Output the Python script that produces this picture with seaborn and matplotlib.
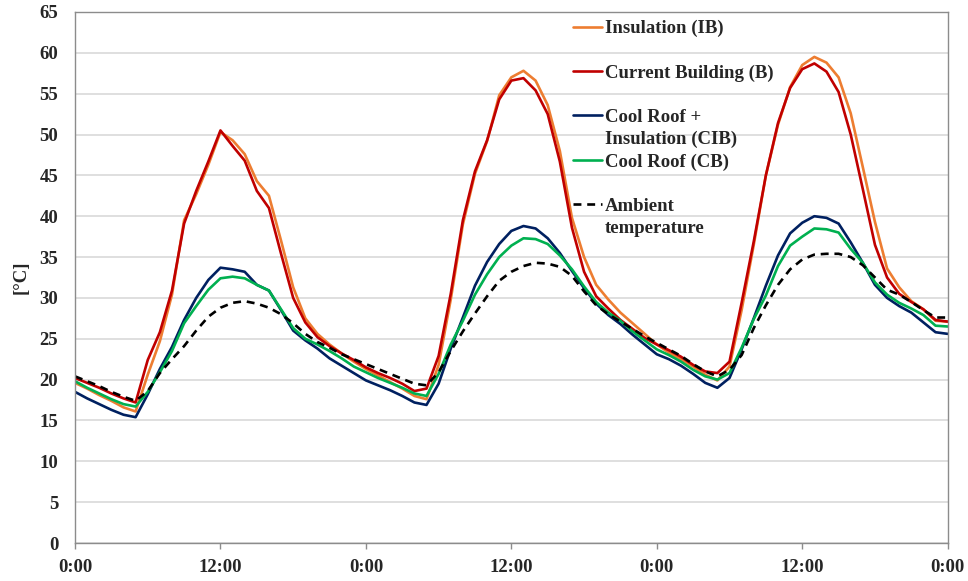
import numpy as np
import pandas as pd
import matplotlib
matplotlib.use("Agg")
import matplotlib.pyplot as plt
import seaborn as sns

# saatlik veriler (0:00 -> 72 saat)
hours = list(range(73))
tick_hours = [0, 12, 24, 36, 48, 60, 72]
tick_labels = ['0:00', '12:00', '0:00', '12:00', '0:00', '12:00', '0:00']

ib = [19.6, 18.9, 18.1, 17.4, 16.6, 16.1, 20.6, 24.7, 30.4, 39.5, 42.7, 46.3,
      50.3, 49.3, 47.6, 44.3, 42.5, 37.0, 31.3, 27.5, 25.6, 24.3, 23.2, 22.2,
      21.3, 20.5, 19.7, 18.9, 18.0, 17.6, 21.8, 29.8, 39.0, 45.2, 49.2, 54.8,
      57.0, 57.8, 56.6, 53.6, 48.0, 39.8, 35.0, 31.6, 29.8, 28.2, 26.9, 25.6,
      24.3, 23.3, 22.5, 21.6, 20.6, 19.9, 21.6, 28.5, 36.5, 45.0, 51.2, 55.8,
      58.5, 59.5, 58.8, 57.0, 52.6, 46.0, 39.3, 33.6, 31.3, 29.6, 28.6, 27.2, 27.1]
b = [20.2, 19.6, 19.0, 18.3, 17.7, 17.2, 22.4, 25.8, 30.9, 39.1, 43.1, 46.7,
     50.5, 48.6, 46.8, 43.1, 41.0, 35.4, 30.0, 27.0, 25.2, 24.1, 23.2, 22.4,
     21.5, 20.8, 20.2, 19.5, 18.6, 18.9, 22.9, 30.5, 39.5, 45.5, 49.3, 54.3,
     56.6, 56.9, 55.4, 52.5, 46.7, 38.6, 33.2, 30.2, 28.7, 27.3, 26.2, 25.1,
     24.3, 23.6, 22.8, 21.8, 21.0, 20.8, 22.2, 29.4, 36.9, 45.0, 51.4, 55.7,
     58.0, 58.7, 57.7, 55.2, 50.0, 43.3, 36.5, 32.5, 30.5, 29.5, 28.6, 27.3, 27.1]
cib = [18.5, 17.7, 17.0, 16.3, 15.7, 15.4, 18.2, 21.3, 24.0, 27.3, 30.0, 32.2,
       33.7, 33.5, 33.2, 31.6, 30.9, 28.5, 26.0, 24.8, 23.8, 22.6, 21.7, 20.8,
       19.9, 19.3, 18.7, 18.0, 17.2, 16.9, 19.5, 23.8, 27.6, 31.5, 34.4, 36.6,
       38.2, 38.8, 38.5, 37.3, 35.5, 33.3, 31.2, 29.3, 27.9, 26.8, 25.5, 24.3,
       23.1, 22.5, 21.7, 20.7, 19.6, 19.0, 20.2, 23.7, 27.5, 31.5, 35.2, 37.9,
       39.2, 40.0, 39.8, 39.1, 36.8, 34.3, 31.6, 30.0, 29.0, 28.2, 27.0, 25.8, 25.6]
cb = [19.8, 19.0, 18.3, 17.6, 17.0, 16.7, 18.5, 20.9, 23.5, 26.9, 29.0, 31.0,
      32.4, 32.6, 32.4, 31.6, 30.9, 28.6, 26.3, 25.0, 24.3, 23.5, 22.6, 21.6,
      20.9, 20.2, 19.6, 19.0, 18.3, 18.0, 20.7, 24.3, 27.2, 30.4, 32.9, 35.0,
      36.4, 37.3, 37.2, 36.6, 35.2, 33.5, 31.4, 29.5, 28.2, 27.2, 25.9, 24.8,
      23.7, 23.0, 22.2, 21.2, 20.4, 20.0, 20.8, 23.9, 27.4, 30.3, 33.9, 36.4,
      37.5, 38.5, 38.4, 38.0, 36.0, 34.3, 31.9, 30.4, 29.4, 28.7, 27.9, 26.6, 26.5]
amb = [20.4, 19.8, 19.2, 18.5, 17.9, 17.4, 18.6, 20.8, 22.5, 24.1, 26.0, 27.7,
       28.8, 29.4, 29.6, 29.3, 28.8, 28.0, 26.9, 25.6, 24.6, 23.9, 23.1, 22.5,
       21.9, 21.3, 20.7, 20.1, 19.5, 19.3, 20.9, 23.5, 25.9, 28.1, 30.2, 32.1,
       33.2, 33.9, 34.3, 34.2, 33.8, 32.7, 30.8, 29.1, 28.0, 27.1, 26.2, 25.3,
       24.5, 23.7, 22.9, 21.9, 21.0, 20.4, 21.2, 23.0, 26.3, 29.1, 31.6, 33.5,
       34.7, 35.3, 35.4, 35.4, 35.0, 34.0, 32.5, 31.0, 30.4, 29.5, 28.5, 27.6, 27.6]

names = ['Insulation (IB)', 'Current Building (B)', 'Cool Roof + Insulation (CIB)',
         'Cool Roof (CB)', 'Ambient temperature']
# lejant satırları (Excel gibi: ikinci satır alta taşıyor)
legend_first = ['Insulation (IB)', 'Current Building (B)', 'Cool Roof +',
                'Cool Roof (CB)', 'Ambient']
legend_second = {2: 'Insulation (CIB)', 4: 'temperature'}
colors = ['#ED7D31', '#C00000', '#002060', '#00B050', 'black']

# uzun formatta tablo
series = [ib, b, cib, cb, amb]
df = pd.concat([pd.DataFrame({'saat': hours, 'sicaklik': s, 'seri': n})
                for s, n in zip(series, names)], ignore_index=True)

sns.set_theme(style='white')
plt.rcParams['font.family'] = ['Liberation Serif', 'DejaVu Serif']
plt.rcParams['font.weight'] = 'bold'
fs = 13.5

fig = plt.figure(figsize=(9.68, 5.81), dpi=100)
ax = fig.add_axes([0.0775, 0.0654, 0.9015, 0.914])

dashes = {n: '' for n in names}
dashes[names[-1]] = (3.0, 2.2)
sns.lineplot(data=df, x='saat', y='sicaklik', hue='seri', style='seri',
             hue_order=names, style_order=names, palette=dict(zip(names, colors)),
             dashes=dashes, linewidth=1.9, ax=ax)

ax.set_xlim(0, 72)
ax.set_ylim(0, 65)
ax.set_yticks(range(0, 66, 5))
ax.set_xticks(tick_hours)
ax.set_xticklabels(tick_labels)
ax.yaxis.grid(True, color='#d9d9d9', linewidth=1.2)
ax.xaxis.grid(False)
for sp in ax.spines.values():
    sp.set_color('#8c8c8c')
    sp.set_linewidth(1.0)
ax.tick_params(axis='x', bottom=True, length=4.3, width=1, color='#8c8c8c', pad=7, labelsize=fs)
ax.tick_params(axis='y', left=False, length=0, pad=12, labelsize=fs)
for t in ax.get_xticklabels() + ax.get_yticklabels():
    t.set_fontweight('bold')
ax.set_xlabel('')
ax.set_ylabel('[°C]', fontsize=fs, fontweight='bold', labelpad=7)

handles, _ = ax.get_legend_handles_labels()
leg = ax.legend(handles, legend_first, loc='upper left', bbox_to_anchor=(0.5704, 0.985),
                frameon=False, borderpad=0, borderaxespad=0, handlelength=1.55,
                handletextpad=0.15, labelspacing=1.45,
                prop={'family': 'Liberation Serif', 'weight': 'bold', 'size': fs})
# ikinci satırlar lejanttan sonra çizilsin
for i, txt in legend_second.items():
    ax.annotate(txt, xy=(0, 0), xycoords=leg.get_texts()[i], xytext=(0, -16),
                textcoords='offset points', ha='left', va='bottom', zorder=10,
                fontsize=fs, fontweight='bold', family='Liberation Serif')

fig.savefig('out.png', dpi=100)
